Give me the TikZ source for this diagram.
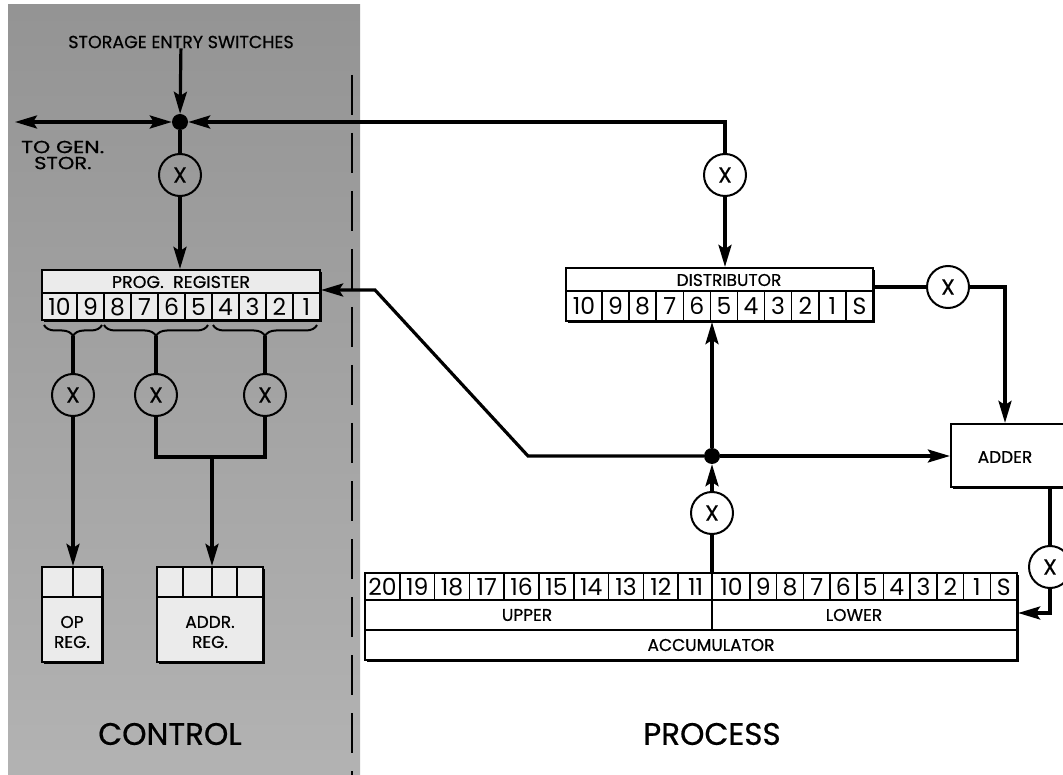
\documentclass[tikz,border=0pt]{standalone}
\usepackage{fontspec}
\setmainfont{Poppins}
\newfontfamily\lblfont{Poppins}[FakeBold=0.6]
\usetikzlibrary{arrows.meta,decorations.pathreplacing,shadows}
\begin{document}
\begin{tikzpicture}[x=1pt,y=-1pt,
  Big/.tip={Stealth[length=22pt,width=13pt,inset=4pt]},
  conn/.style={line width=3.2pt,line join=miter},
  arr/.style={conn,-Big},
  darr/.style={conn,Big-Big},
  gate/.style={circle,draw,line width=2pt,minimum size=42pt,inner sep=0pt,font=\lblfont\fontsize{22}{22}\selectfont},
  junc/.style={circle,fill=black,minimum size=16pt,inner sep=0pt},
  regbox/.style={draw,line width=2.2pt,inner sep=0pt,fill=white,drop shadow={shadow xshift=2pt,shadow yshift=-2.2pt,fill=black,opacity=1}},
  cellline/.style={line width=1.5pt},
  digit/.style={font=\fontsize{23.5}{23.5}\selectfont,inner sep=0pt},
  lbl/.style={font=\lblfont\fontsize{17}{17}\selectfont,inner sep=0pt},
  lblbig/.style={font=\lblfont\fontsize{17.5}{17.5}\selectfont,inner sep=0pt},
  titletext/.style={font=\lblfont\fontsize{31}{31}\selectfont,inner sep=0pt},
  bracestyle/.style={decorate,decoration={brace,mirror,amplitude=11pt},line width=2pt},
]
\useasboundingbox (0,0) rectangle (1063,775);
\clip (0,0) rectangle (1063,775);
\fill[white] (0,0) rectangle (1063,775);
% control area background
\shade[top color=black!42, middle color=black!22, bottom color=black!30] (8,5) rectangle (360,775);
\draw[line width=2.4pt, dash pattern=on 40pt off 18pt] (352,75) -- (352,775);

% ---------- nodes: control side
\node[lblbig] (sesw) at (181,42) {STORAGE ENTRY SWITCHES};
\node[junc] (dotTop) at (180,122) {};
\coordinate (genstor) at (15,122);
\coordinate (cR) at (725,122);
\node[lblbig,anchor=west] (tg) at (21,147) {\scalebox{1.25}[1]{TO GEN.}};
\node[lblbig,anchor=west] (st) at (34,163) {\scalebox{1.2}[1]{STOR.}};
\node[gate] (xTop) at (180,175) {X};

% program register
\node[regbox,fill=black!8,minimum width=278pt,minimum height=50pt] (prog) at (181,295) {};
\draw[cellline] (42,293) -- (320,293);
\node[lbl] (progt) at (181,282) {\scalebox{1.03}[1]{PROG.\ \ REGISTER}};
\foreach \k in {0,...,8} \draw[cellline] (77+27*\k,293) -- (77+27*\k,320);
\node[digit] (pc0) at (59.5,307) {10};
\foreach \k/\l in {1/9,2/8,3/7,4/6,5/5,6/4,7/3,8/2,9/1}
  \node[digit] (pc\k) at (63.5+27*\k,307) {\l};

% braces
\draw[bracestyle] (44,325) -- (102,325);
\draw[bracestyle] (104,325) -- (208,325);
\draw[bracestyle] (213,325) -- (317,325);
\coordinate (b1) at (73,336);
\coordinate (b2) at (156,336);
\coordinate (b3) at (265,336);
\node[gate] (xC1) at (73,395) {X};
\node[gate] (xC2) at (156,395) {X};
\node[gate] (xC3) at (265,395) {X};
\coordinate (jL) at (156,457);
\coordinate (jR) at (265,457);
\coordinate (jn) at (212,457);

% op register
\node[regbox,fill=black!8,minimum width=60pt,minimum height=95pt] (opreg) at (72,614.5) {};
\draw[cellline] (42,597) -- (102,597);
\draw[cellline] (73,567) -- (73,597);
\node[lbl] (opt) at (72,622) {OP};
\node[lbl] (opr) at (72,642) {REG.};

% address register
\node[regbox,fill=black!8,minimum width=106pt,minimum height=95pt] (addr) at (210,614.5) {};
\draw[cellline] (157,597) -- (263,597);
\foreach \x in {183,212,237} \draw[cellline] (\x,567) -- (\x,597);
\node[lbl] (adt) at (210,622) {ADDR.};
\node[lbl] (adr) at (210,642) {REG.};

\node[titletext] (ctrl) at (170,734) {CONTROL};

% ---------- nodes: process side
\node[gate] (xR) at (725,175) {X};

% distributor
\node[regbox,minimum width=307pt,minimum height=53pt] (dist) at (719.5,294.5) {};
\draw[cellline] (566,291) -- (873,291);
\node[lbl] (distt) at (729,280) {DISTRIBUTOR};
\foreach \k in {0,...,9} \draw[cellline] (602+27.1*\k,291) -- (602+27.1*\k,321);
\node[digit] (dc0) at (584,306) {10};
\foreach \k/\l in {1/9,2/8,3/7,4/6,5/5,6/4,7/3,8/2,9/1,10/S}
  \node[digit] (dc\k) at (588.45+27.1*\k,306) {\l};

\node[gate] (xD) at (948,287) {X};
\coordinate (cD) at (1005,287);

% adder
\node[regbox,minimum width=120pt,minimum height=63pt] (adder) at (1011,455.5) {};
\node[lbl] (addt) at (1005,457) {ADDER};

\node[gate] (xA) at (1050,567) {X};
\coordinate (cA) at (1050,613);

\node[junc] (dotMid) at (712,456) {};
\node[gate] (xM) at (712,513) {X};
\coordinate (k1) at (528,456);
\coordinate (k2) at (375,290);

% accumulator
\node[regbox,minimum width=652pt,minimum height=87pt] (acc) at (691,616.5) {};
\draw[cellline] (365,600) -- (1017,600);
\draw[cellline] (365,630) -- (1017,630);
\draw[cellline] (712,573) -- (712,630);
\foreach \k in {1,...,9} \draw[cellline] (365+34.8*\k,573) -- (365+34.8*\k,600);
\foreach \k/\l in {1/20,2/19,3/18,4/17,5/16,6/15,7/14,8/13,9/12,10/11}
  \node[digit] (uc\k) at (347.6+34.8*\k,587) {\l};
\foreach \k in {0,...,9} \draw[cellline] (750+26.7*\k,573) -- (750+26.7*\k,600);
\node[digit] (lc0) at (731.5,587) {10};
\foreach \k/\l in {1/9,2/8,3/7,4/6,5/5,6/4,7/3,8/2,9/1,10/S}
  \node[digit] (lc\k) at (736.65+26.7*\k,587) {\l};
\node[lbl] (upt) at (527,615) {UPPER};
\node[lbl] (lot) at (854,615) {LOWER};
\node[lbl] (acct) at (711,645) {ACCUMULATOR};

\node[titletext] (proc) at (712,734) {PROCESS};

% ---------- connectors
\draw[arr] (sesw) -- (dotTop);
\draw[darr] (genstor) -- (dotTop);
\draw[arr] (xR) -- (cR) -- (dotTop);
\draw[arr] (xR) -- (xR |- dist.north);
\draw[conn] (dotTop) -- (xTop);
\draw[arr] (xTop) -- (xTop |- prog.north);

\draw[conn] (b1) -- (xC1);
\draw[arr] (xC1) -- (xC1 |- opreg.north);
\draw[conn] (b2) -- (xC2);
\draw[conn] (b3) -- (xC3);
\draw[conn] (xC2) -- (jL) -- (jR) -- (xC3);
\draw[arr] (jn) -- (jn |- addr.north);

\draw[conn] (dist.east |- xD) -- (xD);
\draw[arr] (xD) -- (cD) -- (cD |- adder.north);
\draw[conn] (adder.south -| xA) -- (xA);
\draw[arr] (xA) -- (cA) -- (cA -| acc.east);
\draw[conn] (xM |- acc.north) -- (xM);
\draw[arr] (xM) -- (dotMid);
\draw[arr] (dotMid) -- (dotMid |- dist.south);
\draw[arr] (dotMid) -- (dotMid -| adder.west);
\draw[arr] (dotMid) -- (k1) -- (k2) -- (k2 -| prog.east);
\end{tikzpicture}
\end{document}
